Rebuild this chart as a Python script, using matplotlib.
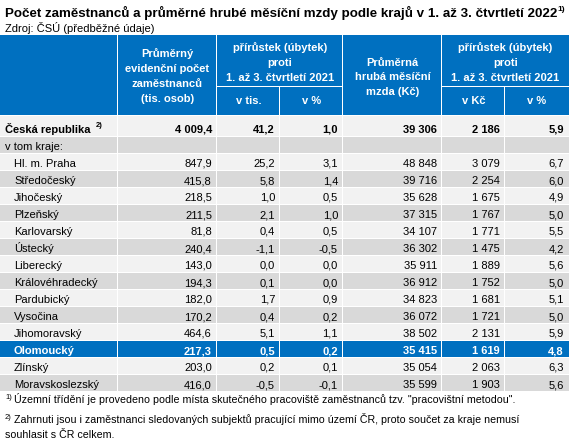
import matplotlib.pyplot as plt
from matplotlib.patches import Rectangle

plt.rcParams['font.family'] = ['Liberation Sans', 'DejaVu Sans']

# data
regions = ['Hl. m. Praha', 'Středočeský', 'Jihočeský', 'Plzeňský', 'Karlovarský',
           'Ústecký', 'Liberecký', 'Královéhradecký', 'Pardubický', 'Vysočina',
           'Jihomoravský', 'Olomoucký', 'Zlínský', 'Moravskoslezský']
employees = [847.9, 415.8, 218.5, 211.5, 81.8, 240.4, 143.0, 194.3, 182.0, 170.2,
             464.6, 217.3, 203.0, 416.0]
emp_change = [25.2, 5.8, 1.0, 2.1, 0.4, -1.1, 0.0, 0.1, 1.7, 0.4, 5.1, 0.5, 0.2, -0.5]
emp_change_pct = [3.1, 1.4, 0.5, 1.0, 0.5, -0.5, 0.0, 0.0, 0.9, 0.2, 1.1, 0.2, 0.1, -0.1]
wage = [48848, 39716, 35628, 37315, 34107, 36302, 35911, 36912, 34823, 36072,
        38502, 35415, 35054, 35599]
wage_change = [3079, 2254, 1675, 1767, 1771, 1475, 1889, 1752, 1681, 1721,
               2131, 1619, 2063, 1903]
wage_change_pct = [6.7, 6.0, 4.9, 5.0, 5.5, 4.2, 5.6, 5.0, 5.1, 5.0, 5.9, 4.8, 6.3, 5.6]

total_name = 'Česká republika'
total = [4009.4, 41.2, 1.0, 39306, 2186, 5.9]
highlight = 'Olomoucký'

title = 'Počet zaměstnanců a průměrné hrubé měsíční mzdy podle krajů v 1. až 3. čtvrtletí 2022'
source = 'Zdroj: ČSÚ (předběžné údaje)'
notes = ['Územní třídění je provedeno podle místa skutečného pracoviště zaměstnanců tzv. "pracovištní metodou".',
         'Zahrnuti jsou i zaměstnanci sledovaných subjektů pracující mimo území ČR, proto součet za kraje nemusí',
         'souhlasit s ČR celkem.']

BLUE = '#0070c0'
LIGHT = '#f2f2f2'
DARK = '#d9d9d9'
FS = 8.0
FN = 7.7


def fmt(v, dec):
    s = f'{v:,.{dec}f}'
    return s.replace(',', ' ').replace('.', ',')


fig = plt.figure(figsize=(5.69, 4.46), dpi=100)
ax = fig.add_axes([0, 0, 1, 1])
ax.set_xlim(0, 569)
ax.set_ylim(446, 0)
ax.axis('off')

edges = [0, 118, 217, 280, 343, 442, 505, 569]


def cell(x0, x1, y0, y1, color):
    w = x1 - x0 - (0 if x1 >= 569 else 1)
    ax.add_patch(Rectangle((x0, y0), w, y1 - y0 - 1, color=color, lw=0))


# title
ax.text(5, 16.5, title, fontsize=9.6, fontweight='bold', va='baseline')
ax.text(557, 11, '1)', fontsize=6, fontweight='bold', va='baseline')
ax.text(5, 31.5, source, fontsize=FS, va='baseline')

# header
htop, hmid, hbot = 35, 87, 116
for i in [0, 1, 4]:
    cell(edges[i], edges[i + 1], htop, hbot, BLUE)
for i in [2, 5]:
    cell(edges[i], edges[i + 2], htop, hmid, BLUE)
    cell(edges[i], edges[i + 1], hmid, hbot, BLUE)
    cell(edges[i + 1], edges[i + 2], hmid, hbot, BLUE)

hk = dict(color='white', fontweight='bold', fontsize=FS, ha='center', va='baseline')
for j, s in enumerate(['Průměrný', 'evidenční počet', 'zaměstnanců', '(tis. osob)']):
    ax.text((edges[1] + edges[2]) / 2, 57 + 15 * j, s, **hk)
for i in [2, 5]:
    for j, s in enumerate(['přírůstek (úbytek)', 'proti', '1. až 3. čtvrtletí 2021']):
        ax.text((edges[i] + edges[i + 2]) / 2, 51 + 15 * j, s, **hk)
for j, s in enumerate(['Průměrná', 'hrubá měsíční', 'mzda (Kč)']):
    ax.text((edges[4] + edges[5]) / 2, 66 + 14.5 * j, s, **hk)
for i, s in zip([2, 3, 5, 6], ['v tis.', 'v %', 'v Kč', 'v %']):
    ax.text((edges[i] + edges[i + 1]) / 2, 104.5, s, **hk)


def row(y0, y1, label, vals, color, bold=False, tcolor='black', indent=5):
    for i in range(7):
        cell(edges[i], edges[i + 1], y0, y1, color)
    base = y1 - 4
    w = 'bold' if bold else 'normal'
    if label:
        ax.text(indent, base, label, fontsize=FS, fontweight=w, color=tcolor, va='baseline')
    if vals is None:
        return
    decs = [1, 1, 1, 0, 0, 1]
    for i, (v, d) in enumerate(zip(vals, decs)):
        ax.text(edges[i + 2] - 5, base, fmt(v, d), fontsize=FS, fontweight=w,
                color=tcolor, ha='right', va='baseline')


# total row
row(116, 137, total_name, total, LIGHT, bold=True)
ax.text(96, 127, '2)', fontsize=5.5, fontweight='bold', va='baseline')
row(137, 154, 'v tom kraje:', None, DARK)

pitch = (392 - 154) / len(regions)
for k, name in enumerate(regions):
    vals = [employees[k], emp_change[k], emp_change_pct[k], wage[k], wage_change[k], wage_change_pct[k]]
    y0 = round(154 + k * pitch)
    y1 = round(154 + (k + 1) * pitch)
    if name == highlight:
        row(y0, y1, name, vals, BLUE, bold=True, tcolor='white', indent=14)
    else:
        row(y0, y1, name, vals, LIGHT if k % 2 == 0 else DARK, indent=14)

# footnotes
ax.text(5, 399, '1)', fontsize=5.5, va='baseline')
ax.text(14, 403, notes[0], fontsize=FN, va='baseline')
ax.text(5, 419, '2)', fontsize=5.5, va='baseline')
ax.text(14, 423, notes[1], fontsize=FN, va='baseline')
ax.text(5, 438, notes[2], fontsize=FN, va='baseline')

fig.savefig('out.png', dpi=100)
